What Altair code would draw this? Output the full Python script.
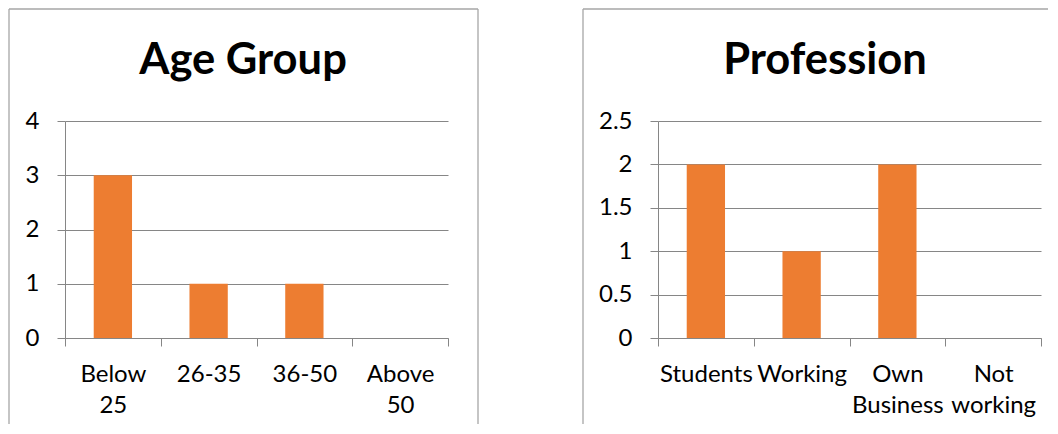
import altair as alt
import pandas as pd

# ---- data ----
age_groups = ["Below 25", "26-35", "36-50", "Above 50"]
age_counts = [3, 1, 1, 0]
professions = ["Students", "Working", "Own Business", "Not working"]
profession_counts = [2, 1, 2, 0]
age_ticks = [0, 1, 2, 3, 4]
profession_ticks = [0, 0.5, 1, 1.5, 2, 2.5]
titles = ["Age Group", "Profession"]

# ---- style ----
BAR = "#ED7D31"
GRID = "#868686"
BORDER = "#A6A6A6"
FONT = "Lato"
W, H = 383, 217
BORDER_TOP = -112
BORDER_BOTTOM = 303


def rule(x=None, x2=None, y=None, y2=None):
    enc = {}
    if x is not None:
        enc["x"] = alt.value(x)
    if x2 is not None:
        enc["x2"] = alt.value(x2)
    if y is not None:
        enc["y"] = alt.value(y)
    if y2 is not None:
        enc["y2"] = alt.value(y2)
    return alt.Chart(pd.DataFrame({"k": [0]})).mark_rule(
        color=BORDER, strokeWidth=1.3
    ).encode(**enc)


def panel(cats, vals, ticks, title, borders, title_x):
    df = pd.DataFrame({"cat": cats, "val": vals})
    bars = alt.Chart(df).mark_bar(color=BAR, width=alt.RelativeBandSize(0.4)).encode(
        x=alt.X(
            "cat:N",
            sort=cats,
            title=None,
            scale=alt.Scale(paddingInner=0, paddingOuter=0),
            axis=alt.Axis(
                labelExpr="split(datum.label, ' ')",
                labelAngle=0,
                labelAlign="center",
                labelBaseline="top",
                labelPadding=16,
                labelLineHeight=31,
                labelFontSize=24,
                labelFont=FONT,
                labelColor="black",
                labelOverlap=False,
                tickBand="extent",
                tickSize=8,
                tickColor=GRID,
                domainColor=GRID,
                grid=False,
            ),
        ),
        y=alt.Y(
            "val:Q",
            title=None,
            scale=alt.Scale(domain=[ticks[0], ticks[-1]], nice=False),
            axis=alt.Axis(
                values=ticks,
                format="~g",
                labelFontSize=24,
                labelFont=FONT,
                labelColor="black",
                labelPadding=18,
                tickSize=8,
                tickColor=GRID,
                domainColor=GRID,
                grid=True,
                gridColor=GRID,
                gridOpacity=1,
            ),
        ),
    )
    title_mark = alt.Chart(pd.DataFrame({"t": [title]})).mark_text(
        font=FONT, fontWeight="bold", fontSize=43.5, baseline="alphabetic",
        align="center", color="black"
    ).encode(text="t:N", x=alt.value(title_x), y=alt.value(-47))
    return alt.layer(*borders, bars, title_mark).properties(width=W, height=H)


left = panel(
    age_groups, age_counts, age_ticks, titles[0],
    [
        rule(x=-56, y=BORDER_TOP, y2=BORDER_BOTTOM),
        rule(x=-56, x2=413, y=BORDER_TOP),
        rule(x=413, y=BORDER_TOP, y2=BORDER_BOTTOM),
    ],
    178,
)
right = panel(
    professions, profession_counts, profession_ticks, titles[1],
    [
        rule(x=-75, y=BORDER_TOP, y2=BORDER_BOTTOM),
        rule(x=-75, x2=390, y=BORDER_TOP),
    ],
    167,
)

chart = alt.hconcat(left, right, spacing=103).properties(
    padding={"left": 0, "top": 0, "right": 0, "bottom": 0},
    background="white",
).configure_view(strokeWidth=0)

chart.save("out.html", embed_options={"renderer": "svg", "actions": False})
